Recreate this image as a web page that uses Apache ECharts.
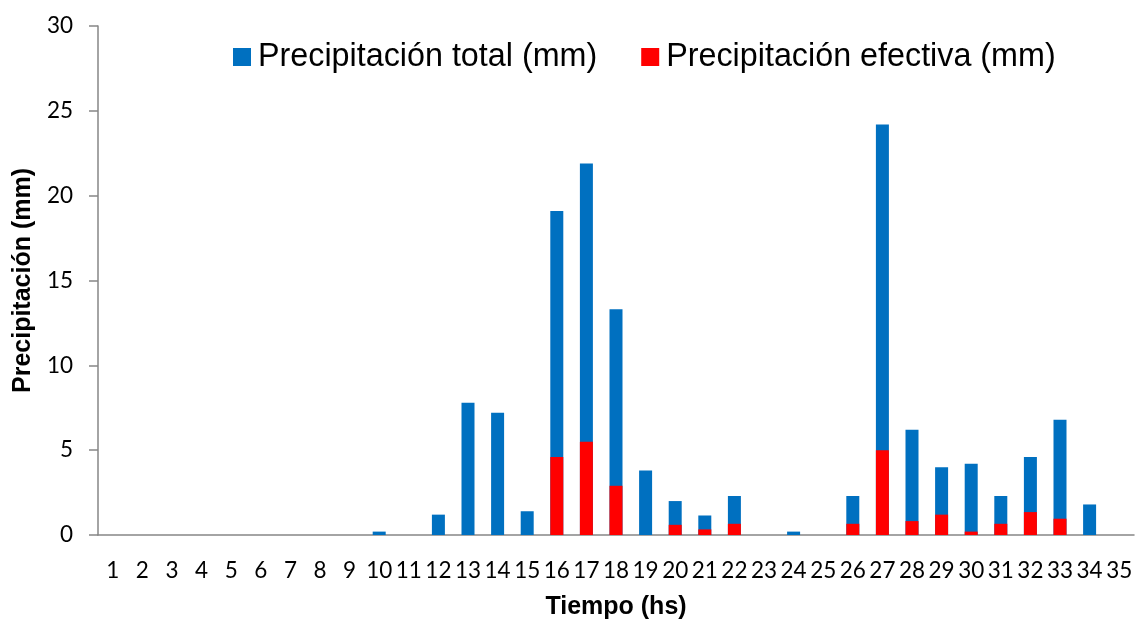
<!DOCTYPE html>
<html>
<head>
<meta charset="utf-8">
<script src="https://cdn.jsdelivr.net/npm/echarts@6/dist/echarts.min.js"></script>
<style>
  html, body { margin: 0; padding: 0; background: #fff; }
  #chart { width: 1141px; height: 625px; }
</style>
</head>
<body>
<div id="chart"></div>
<script>
// Hourly time steps (hs)
const hours = ['1','2','3','4','5','6','7','8','9','10','11','12','13','14','15','16','17','18',
  '19','20','21','22','23','24','25','26','27','28','29','30','31','32','33','34','35'];

// Total precipitation per hour (mm)
const totalRain = [0, 0, 0, 0, 0, 0, 0, 0, 0, 0.2, 0, 1.2, 7.8, 7.2, 1.4, 19.1, 21.9, 13.3,
  3.8, 2.0, 1.15, 2.3, 0, 0.2, 0, 2.3, 24.2, 6.2, 4.0, 4.2, 2.3, 4.6, 6.8, 1.8, 0];

// Effective precipitation per hour (mm)
const effectiveRain = [0, 0, 0, 0, 0, 0, 0, 0, 0, 0, 0, 0, 0, 0, 0, 4.6, 5.5, 2.9,
  0, 0.6, 0.33, 0.66, 0, 0, 0, 0.66, 5.0, 0.82, 1.2, 0.2, 0.66, 1.35, 0.96, 0, 0];

// Value axis ticks
const yTicks = { min: 0, max: 30, interval: 5 };

const seriesNames = ['Precipitación total (mm)', 'Precipitación efectiva (mm)'];

const chart = echarts.init(document.getElementById('chart'), null, { renderer: 'canvas' });

const axisGrey = '#868686';
const tickFont = "Lato, 'Open Sans', sans-serif";
const titleFont = "'Liberation Sans', Arial, sans-serif";

chart.setOption({
  animation: false,
  backgroundColor: '#ffffff',
  grid: { left: 98, right: 7, top: 26, bottom: 88, containLabel: false },
  legend: {
    data: seriesNames,
    left: 233,
    top: 41,
    padding: 0,
    icon: 'rect',
    itemWidth: 18,
    itemHeight: 18,
    itemGap: 44,
    textStyle: {
      fontFamily: titleFont,
      fontSize: 32.3,
      color: '#000',
      padding: [0, 0, 0, 2]
    }
  },
  xAxis: {
    type: 'category',
    data: hours,
    name: 'Tiempo (hs)',
    nameLocation: 'middle',
    nameGap: 60,
    nameTextStyle: { fontFamily: titleFont, fontWeight: 'bold', fontSize: 25, color: '#000' },
    axisLine: { lineStyle: { color: axisGrey, width: 1.5 } },
    axisTick: { show: false },
    axisLabel: { fontFamily: tickFont, fontSize: 22.5, color: '#000', margin: 24, interval: 0 }
  },
  yAxis: {
    type: 'value',
    min: yTicks.min,
    max: yTicks.max,
    interval: yTicks.interval,
    name: 'Precipitación (mm)',
    nameLocation: 'middle',
    nameGap: 58,
    nameTextStyle: { fontFamily: titleFont, fontWeight: 'bold', fontSize: 25, color: '#000' },
    axisLine: { show: true, lineStyle: { color: axisGrey, width: 1.5 } },
    axisTick: { show: true, length: 9, lineStyle: { color: axisGrey, width: 1.5 } },
    splitLine: { show: false },
    axisLabel: { fontFamily: tickFont, fontSize: 22.5, color: '#000', margin: 25 }
  },
  series: [
    {
      name: seriesNames[0],
      type: 'bar',
      data: totalRain,
      barWidth: 13,
      barGap: '-100%',
      itemStyle: { color: '#0070C0' }
    },
    {
      name: seriesNames[1],
      type: 'bar',
      data: effectiveRain,
      barWidth: 13,
      barGap: '-100%',
      itemStyle: { color: '#FF0000' }
    }
  ]
});
</script>
</body>
</html>
